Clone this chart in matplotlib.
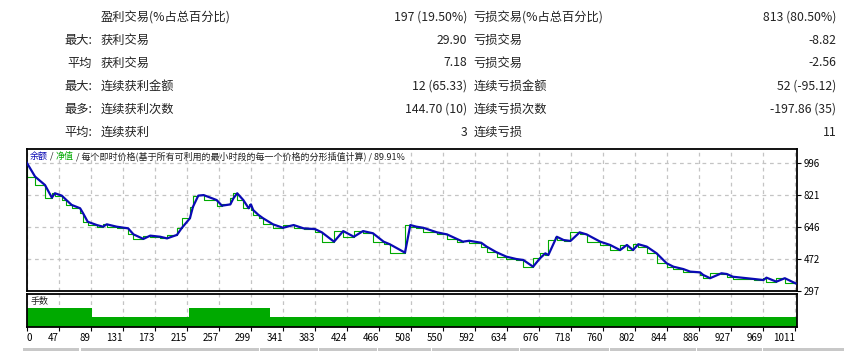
import numpy as np
import matplotlib.pyplot as plt
from matplotlib.patches import Rectangle

plt.rcParams['font.family'] = ['Noto Sans CJK SC', 'DejaVu Sans']

W, H = 845, 351

# summary table
row_heads = ['', '最大:', '平均', '最大:', '最多:', '平均:']
win_labels = ['盈利交易(%占总百分比)', '获利交易', '获利交易', '连续获利金额', '连续获利次数', '连续获利']
win_values = ['197 (19.50%)', '29.90', '7.18', '12 (65.33)', '144.70 (10)', '3']
loss_labels = ['亏损交易(%占总百分比)', '亏损交易', '亏损交易', '连续亏损金额', '连续亏损次数', '连续亏损']
loss_values = ['813 (80.50%)', '-8.82', '-2.56', '52 (-95.12)', '-197.86 (35)', '11']

# balance curve (trade number, balance)
trade = [0, 11, 24, 33, 37, 46, 52, 59, 70, 74, 80, 92, 100, 105, 118, 133, 140, 153,
         162, 175, 184, 197, 203, 214, 218, 225, 232, 249, 256, 267, 271, 276, 284,
         291, 294, 297, 304, 310, 323, 336, 350, 363, 378, 387, 403, 415, 429, 441,
         454, 468, 476, 496, 503, 511, 520, 538, 551, 564, 572, 580, 596, 603, 616,
         629, 642, 651, 664, 673, 680, 684, 693, 695, 704, 713, 725, 734, 752, 765,
         778, 787, 795, 802, 813, 826, 839, 848, 861, 870, 883, 887, 896, 911, 918,
         926, 953, 966, 970, 983, 994, 1008]
balance = [1000, 923, 877, 808, 832, 819, 795, 768, 750, 722, 676, 658, 649, 662, 649,
           640, 607, 582, 600, 594, 585, 604, 640, 695, 758, 819, 822, 795, 764, 771,
           804, 832, 795, 750, 771, 740, 713, 695, 662, 643, 658, 640, 636, 618, 567,
           625, 594, 625, 613, 567, 553, 507, 658, 649, 643, 618, 607, 582, 567, 572,
           561, 540, 509, 485, 472, 467, 430, 476, 503, 494, 576, 594, 576, 571, 618,
           607, 567, 549, 521, 549, 521, 553, 540, 503, 449, 430, 417, 403, 399, 385,
           367, 394, 390, 375, 363, 357, 370, 348, 367, 339]

# lot sizes
lot_edges = [0, 85, 213, 319, 1010]
lots = [0.02, 0.01, 0.02, 0.01]

y_ticks = [297, 472, 646, 821, 996]
x_tick_labels = ['0', '47', '89', '131', '173', '215', '257', '299', '341', '383', '424',
                 '466', '508', '550', '592', '634', '676', '718', '760', '802', '844',
                 '886', '927', '969', '1011']
x_step = 41.97

BLUE = '#0a0ab4'
GREEN = '#00aa00'
GRID = '#c4c4c4'
TXT = '#222222'

fig = plt.figure(figsize=(W / 100, H / 100), dpi=100)


def fx(px):
    return px / W


def fy(py):
    return 1 - py / H


# table
row_y = [17.5, 40.5, 63, 86.5, 109.5, 132]
fs = 8.8
for i, y in enumerate(row_y):
    fig.text(fx(92), fy(y), row_heads[i], ha='right', va='center', fontsize=fs, color=TXT)
    fig.text(fx(101), fy(y), win_labels[i], ha='left', va='center', fontsize=fs, color=TXT)
    fig.text(fx(467), fy(y), win_values[i], ha='right', va='center', fontsize=fs, color=TXT)
    fig.text(fx(473.5), fy(y), loss_labels[i], ha='left', va='center', fontsize=fs, color=TXT)
    fig.text(fx(836.5), fy(y), loss_values[i], ha='right', va='center', fontsize=fs, color=TXT)

left, right = 26.7, 797
ax = fig.add_axes([fx(left), fy(291), fx(right) - fx(left), fy(148.5) - fy(291)])
axv = fig.add_axes([fx(left), fy(327), fx(right) - fx(left), fy(294) - fy(327)])

xticks = np.arange(len(x_tick_labels)) * x_step

# main chart
ax.plot(trade, balance, drawstyle='steps-pre', color=GREEN, lw=0.8, zorder=2)
ax.plot(trade, balance, color=BLUE, lw=1.6, zorder=3)
ax.set_xlim(0, 1010)
ax.set_ylim(297, 1077)
ax.set_yticks(y_ticks)
ax.set_yticklabels([str(v) for v in y_ticks])
ax.yaxis.tick_right()
ax.tick_params(axis='y', labelsize=7, length=3, pad=2, colors='black')
ax.set_xticks(xticks)
ax.tick_params(axis='x', bottom=False, labelbottom=False)
ax.grid(True, color=GRID, ls=(0, (3, 3)), lw=0.9)
for s in ax.spines.values():
    s.set_linewidth(1.3)

# legend line with coloured pieces
pieces = [('余额', BLUE), (' / ', TXT), ('净值', GREEN),
          (' / 每个即时价格(基于所有可利用的最小时段的每一个价格的分形插值计算) / 89.91%', TXT)]
t = fig.text(fx(30), fy(156.5), pieces[0][0], color=pieces[0][1], fontsize=6.5,
             ha='left', va='center')
for txt, col in pieces[1:]:
    t = ax.annotate(txt, xy=(1, 0.5), xycoords=t, ha='left', va='center',
                    color=col, fontsize=6.5, annotation_clip=False)

# volume panel
axv.stairs(lots, lot_edges, fill=True, color=GREEN, zorder=2)
axv.set_xlim(0, 1010)
axv.set_ylim(0, 0.034)
axv.set_yticks([])
axv.set_xticks(xticks)
axv.set_xticklabels(x_tick_labels)
axv.tick_params(axis='x', labelsize=7, length=3, pad=1.5, colors='black')
for i, lbl in enumerate(axv.get_xticklabels()):
    lbl.set_ha('left' if i == 0 else 'right')
axv.grid(True, axis='x', color=GRID, ls=(0, (3, 3)), lw=0.9, zorder=1)
for s in axv.spines.values():
    s.set_linewidth(1.3)
axv.text(0.005, 0.78, '手数', transform=axv.transAxes, fontsize=6.5, color=TXT,
         ha='left', va='center', zorder=3)

# gray header strip at the bottom
splits = [23, 80.5, 260.5, 319, 378.5, 432, 520.5, 610.5, 697.5, 763.5, 845]
for a, b in zip(splits[:-1], splits[1:]):
    fig.add_artist(Rectangle((fx(a), fy(351)), fx(b - a - 1.2), fy(347.5) - fy(351),
                             transform=fig.transFigure, color='#c8c8c8', lw=0))

fig.savefig('out.png', dpi=100)
